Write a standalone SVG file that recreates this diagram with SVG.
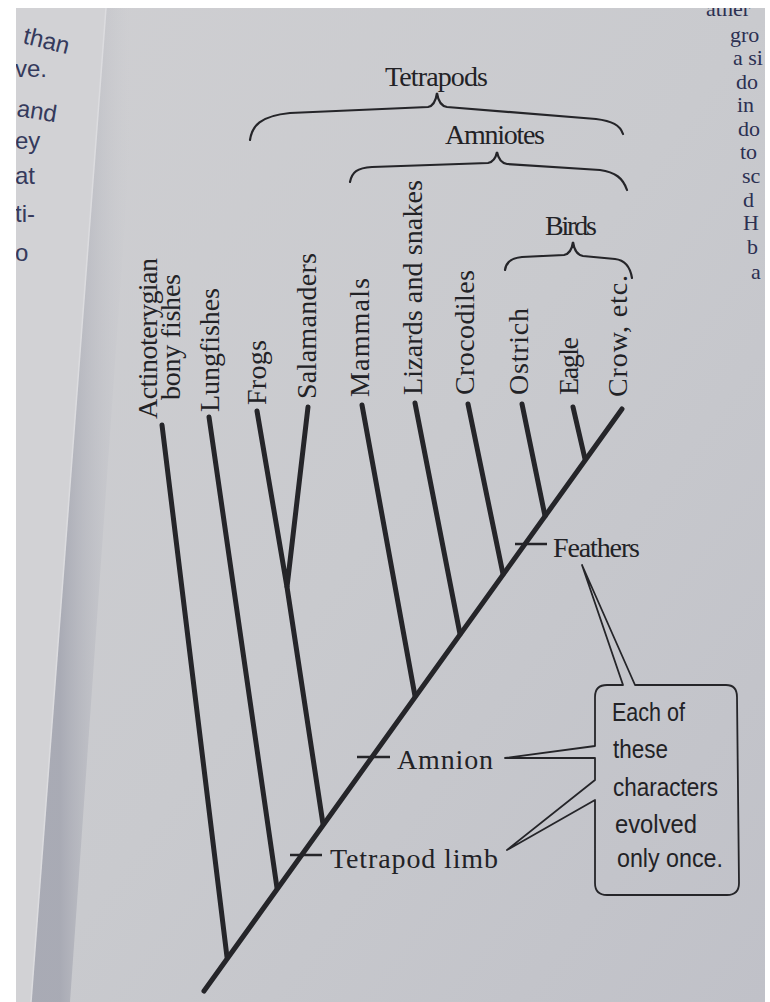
<svg xmlns="http://www.w3.org/2000/svg" width="770" height="1002" viewBox="0 0 770 1002">
<defs>
<linearGradient id="page" x1="0" y1="0" x2="1" y2="1">
<stop offset="0" stop-color="#cfcfd2"/>
<stop offset="0.5" stop-color="#c9cace"/>
<stop offset="1" stop-color="#c0c1c8"/>
</linearGradient>
<linearGradient id="shade" gradientUnits="userSpaceOnUse" x1="60" y1="0" x2="130" y2="0">
<stop offset="0" stop-color="#a3a5b0" stop-opacity="0.85"/>
<stop offset="1" stop-color="#c4c5cb" stop-opacity="0"/>
</linearGradient>
<style>
.ln{stroke:#252529;stroke-width:5;fill:none;stroke-linecap:round}
.tk{stroke:#252529;stroke-width:2.5;fill:none}
.br{stroke:#252529;stroke-width:2.2;fill:none;stroke-linecap:round}
.co{stroke:#252529;stroke-width:1.8;fill:none;stroke-linejoin:round}
.tx{font-family:"Liberation Serif",serif;font-size:28px;fill:#222226}
.cs{font-family:"Liberation Sans",sans-serif;font-size:26px;fill:#222226}
.lm{font-family:"Liberation Sans",sans-serif;font-size:24px;fill:#353a5c}
.rm{font-family:"Liberation Serif",serif;font-size:22px;fill:#2c3052}
</style>
</defs>
<rect x="0" y="0" width="770" height="1002" fill="#ffffff"/>
<rect x="16" y="8" width="749" height="994" fill="url(#page)"/>
<polygon points="104,8 140,8 70,1002 30,1002" fill="url(#shade)"/>
<polygon points="16,8 106,8 31,1002 16,1002" fill="#d2d2d5"/>
<line x1="106" y1="8" x2="31" y2="1002" stroke="#dcdcdf" stroke-width="1.5"/>

<g id="margin-left">
<text class="lm" transform="translate(22,43) rotate(14)">than</text>
<text class="lm" x="15" y="77">ve.</text>
<text class="lm" transform="translate(16,116) rotate(9)">and</text>
<text class="lm" x="15" y="149">ey</text>
<text class="lm" x="15" y="184">at</text>
<text class="lm" x="15" y="222">ti-</text>
<text class="lm" x="15" y="261">o</text>
</g>
<g id="margin-right">
<text class="rm" x="706" y="16">ather</text>
<text class="rm" x="730" y="42">gro</text>
<text class="rm" x="733" y="65">a si</text>
<text class="rm" x="736" y="89">do</text>
<text class="rm" x="737" y="112">in</text>
<text class="rm" x="738" y="136">do</text>
<text class="rm" x="740" y="159">to</text>
<text class="rm" x="742" y="183">sc</text>
<text class="rm" x="743" y="207">d</text>
<text class="rm" x="743" y="230">H</text>
<text class="rm" x="747" y="254">b</text>
<text class="rm" x="751" y="279">a</text>
</g>

<g id="connectors">
<line class="ln" x1="204" y1="991" x2="622" y2="409"/>
<line class="ln" x1="162" y1="425" x2="227" y2="957"/>
<line class="ln" x1="209" y1="417" x2="277" y2="888"/>
<polyline class="ln" points="257,411 287,587 308,407"/>
<line class="ln" x1="287" y1="587" x2="323" y2="824"/>
<line class="ln" x1="362" y1="405" x2="415" y2="696"/>
<line class="ln" x1="415" y1="403" x2="460" y2="634"/>
<line class="ln" x1="468" y1="404" x2="503" y2="574"/>
<line class="ln" x1="522" y1="404" x2="545" y2="516"/>
<line class="ln" x1="573" y1="407" x2="585" y2="459"/>
</g>

<g id="actinopterygian">
<text class="tx" transform="translate(157,419) rotate(-90)" textLength="161">Actinoterygian</text>
<text class="tx" transform="translate(180,400) rotate(-90)" textLength="126">bony fishes</text>
</g>
<g id="lungfishes"><text class="tx" transform="translate(219,412) rotate(-90)" textLength="124">Lungfishes</text></g>
<g id="frogs"><text class="tx" transform="translate(266,405) rotate(-90)" textLength="65">Frogs</text></g>
<g id="salamanders"><text class="tx" transform="translate(316,399) rotate(-90)" textLength="146">Salamanders</text></g>
<g id="mammals"><text class="tx" transform="translate(369,397) rotate(-90)" textLength="119">Mammals</text></g>
<g id="lizards"><text class="tx" transform="translate(422,395) rotate(-90)" textLength="215">Lizards and snakes</text></g>
<g id="crocodiles"><text class="tx" transform="translate(474,395) rotate(-90)" textLength="125">Crocodiles</text></g>
<g id="ostrich"><text class="tx" transform="translate(528,395) rotate(-90)" textLength="87">Ostrich</text></g>
<g id="eagle"><text class="tx" transform="translate(578,395) rotate(-90)" textLength="58">Eagle</text></g>
<g id="crow"><text class="tx" transform="translate(627,397) rotate(-90)" textLength="122">Crow, etc.</text></g>

<g id="tetrapods">
<text class="tx" x="385" y="86" textLength="103">Tetrapods</text>
<path class="br" d="M250,140 C252,126 260,116 290,113 L428,107 C433,106 436,100 437,93 C438,100 441,106 447,107 L596,119 C612,121 620,125 623,134"/>
</g>
<g id="amniotes">
<text class="tx" x="445" y="144" textLength="100">Amniotes</text>
<path class="br" d="M350,182 C352,172 357,168 372,167 L488,163 C493,162 496,157 497,152 C498,157 501,163 507,164 L600,170 C615,172 623,178 627,190"/>
</g>
<g id="birds">
<text class="tx" x="545" y="235" textLength="52">Birds</text>
<path class="br" d="M505,270 C506,262 511,258 522,257 L564,255 C569,254 572,249 573,242 C574,249 577,255 583,256 L615,259 C625,260 630,266 632,278"/>
</g>

<g id="tetrapod-limb">
<line class="tk" x1="290" y1="855" x2="322" y2="855"/>
<text class="tx" x="330" y="868" textLength="168">Tetrapod limb</text>
</g>
<g id="amnion">
<line class="tk" x1="357" y1="757" x2="390" y2="757"/>
<text class="tx" x="397" y="769" textLength="96">Amnion</text>
</g>
<g id="feathers">
<line class="tk" x1="515" y1="544" x2="547" y2="544"/>
<text class="tx" x="553" y="557" textLength="87">Feathers</text>
</g>

<g id="callout">
<path class="co" d="M607,685 L623,685 L582,565 L635,685 L726,685 Q737,685 737,697 L739,883 Q739,895 727,895 L607,895 Q595,895 595,883 L595,800 L507,850 L595,780 L595,758 L505,758 L595,746 L595,697 Q595,685 607,685 Z"/>
<text class="cs" x="612" y="721" textLength="73" lengthAdjust="spacingAndGlyphs">Each of</text>
<text class="cs" x="613" y="758" textLength="55" lengthAdjust="spacingAndGlyphs">these</text>
<text class="cs" x="613" y="796" textLength="105" lengthAdjust="spacingAndGlyphs">characters</text>
<text class="cs" x="615" y="833" textLength="82" lengthAdjust="spacingAndGlyphs">evolved</text>
<text class="cs" x="617" y="867" textLength="106" lengthAdjust="spacingAndGlyphs">only once.</text>
</g>

<rect x="0" y="0" width="770" height="8" fill="#ffffff"/>
<rect x="0" y="0" width="16" height="1002" fill="#ffffff"/>
<rect x="765" y="0" width="5" height="1002" fill="#ffffff"/>
</svg>
